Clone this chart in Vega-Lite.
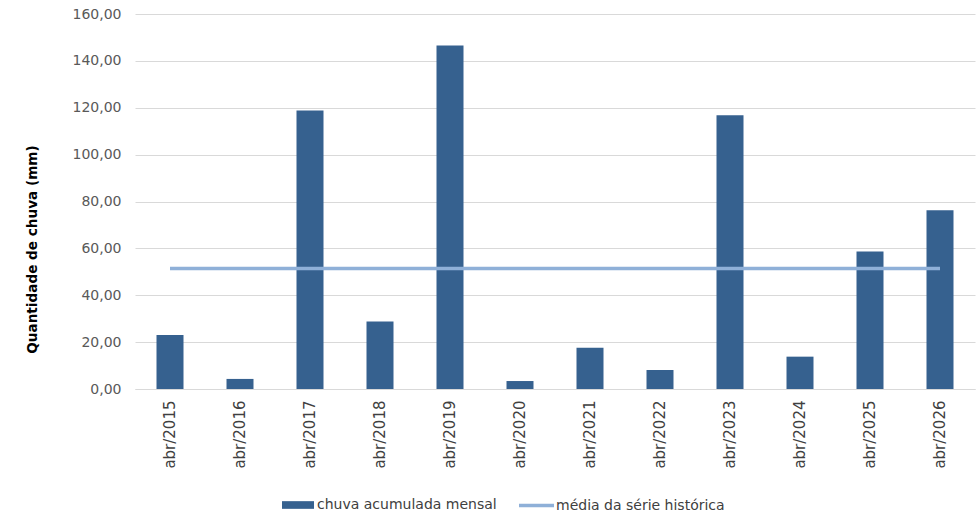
{
  "$schema": "https://vega.github.io/schema/vega-lite/v6.json",
  "width": 840,
  "height": 375,
  "autosize": {"type": "none"},
  "padding": {"left": 135, "top": 14, "right": 3, "bottom": 127},
  "background": "white",
  "config": {
    "view": {"stroke": null},
    "font": "DejaVu Sans"
  },
  "data": {
    "values": [
      {"mes": "abr/2015", "chuva": 23.0, "media": 51.4},
      {"mes": "abr/2016", "chuva": 4.3, "media": 51.4},
      {"mes": "abr/2017", "chuva": 118.8, "media": 51.4},
      {"mes": "abr/2018", "chuva": 28.8, "media": 51.4},
      {"mes": "abr/2019", "chuva": 146.6, "media": 51.4},
      {"mes": "abr/2020", "chuva": 3.4, "media": 51.4},
      {"mes": "abr/2021", "chuva": 17.6, "media": 51.4},
      {"mes": "abr/2022", "chuva": 8.1, "media": 51.4},
      {"mes": "abr/2023", "chuva": 116.8, "media": 51.4},
      {"mes": "abr/2024", "chuva": 13.8, "media": 51.4},
      {"mes": "abr/2025", "chuva": 58.7, "media": 51.4},
      {"mes": "abr/2026", "chuva": 76.3, "media": 51.4}
    ]
  },
  "encoding": {
    "x": {
      "field": "mes",
      "type": "nominal",
      "sort": null,
      "scale": {"paddingInner": 0, "paddingOuter": 0},
      "axis": {
        "title": null,
        "labelAngle": -90,
        "labelAlign": "right",
        "labelBaseline": "middle",
        "labelPadding": 11,
        "labelFontSize": 15,
        "labelColor": "#404040",
        "ticks": false,
        "domainColor": "#d9d9d9",
        "domainWidth": 1,
        "grid": false
      }
    }
  },
  "layer": [
    {
      "mark": {"type": "bar", "size": 27},
      "encoding": {
        "y": {
          "field": "chuva",
          "type": "quantitative",
          "scale": {"domain": [0, 160], "nice": false},
          "axis": {
            "title": "Quantidade de chuva (mm)",
            "titleFontSize": 13.6,
            "titleFontWeight": "bold",
            "titleColor": "#000000",
            "titleAngle": -90,
            "titleX": -103,
            "titleY": 235,
            "titleAlign": "center",
            "titleBaseline": "middle",
            "values": [0, 20, 40, 60, 80, 100, 120, 140, 160],
            "labelExpr": "replace(format(datum.value, '.2f'), '.', ',')",
            "labelFontSize": 14,
            "labelColor": "#595959",
            "labelPadding": 14,
            "ticks": false,
            "domain": false,
            "grid": true,
            "gridColor": "#d9d9d9",
            "gridWidth": 1
          }
        },
        "fill": {
          "datum": "chuva acumulada mensal",
          "type": "nominal",
          "scale": {"range": ["#36618F"]},
          "legend": {
            "title": null,
            "orient": "none",
            "legendX": 147,
            "legendY": 475,
            "padding": 0,
            "symbolType": "M-1,-0.24H1V0.24H-1Z",
            "symbolSize": 1024,
            "symbolStrokeWidth": 0,
            "labelFontSize": 14,
            "labelColor": "#404040",
            "labelOffset": 3,
            "labelLimit": 400
          }
        }
      }
    },
    {
      "mark": {"type": "line", "strokeWidth": 3.5},
      "encoding": {
        "y": {"field": "media", "type": "quantitative"},
        "stroke": {
          "datum": "média da série histórica",
          "type": "nominal",
          "scale": {"range": ["#8FB0D8"]},
          "legend": {
            "title": null,
            "orient": "none",
            "legendX": 382,
            "legendY": 472,
            "padding": 0,
            "symbolType": "stroke",
            "symbolSize": 1225,
            "symbolStrokeWidth": 3.5,
            "labelFontSize": 14,
            "labelColor": "#404040",
            "labelOffset": 0,
            "labelLimit": 400
          }
        }
      }
    }
  ]
}
